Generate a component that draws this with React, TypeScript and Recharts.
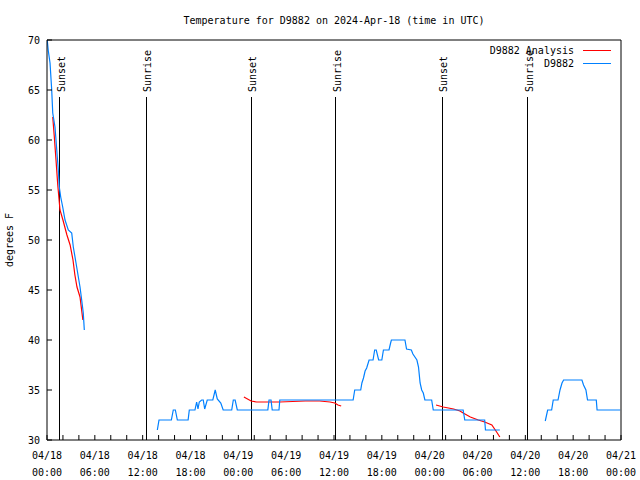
import React from "react";
import { LineChart, Line, XAxis, YAxis, ReferenceLine } from "recharts";

// hours since 04/18 00:00 UTC, temperature in degrees F
const obsSeg1: [number, number][] = [
  [0.03, 70], [0.15, 69], [0.38, 67.7], [0.59, 65], [0.72, 62.7], [1.0, 61.3], [1.13, 60],
  [1.29, 58.3], [1.42, 57], [1.54, 55.3], [1.72, 54.3], [1.97, 53.3], [2.26, 52], [2.67, 51],
  [3.1, 50.7], [3.3, 49.3], [3.64, 47.7], [3.93, 46.3], [4.14, 45.3], [4.35, 44], [4.55, 42.7],
  [4.68, 41],
];
const obsSeg2: [number, number][] = [
  [13.84, 31], [14.05, 32], [15.6, 32], [15.84, 33], [16.1, 33], [16.35, 32], [17.7, 32],
  [17.85, 33], [18.56, 33], [18.77, 33.8], [18.94, 33.1], [19.1, 33.8], [19.4, 34], [19.6, 34],
  [19.78, 33.1], [20.1, 34], [20.8, 34], [21.1, 35], [21.36, 34.1], [21.8, 33.7], [22.1, 33],
  [23.17, 33], [23.37, 34], [23.6, 34], [23.87, 33], [27.7, 33], [27.85, 34], [28.1, 34],
  [28.25, 33], [29.1, 33], [29.2, 34], [38.4, 34], [38.6, 35], [39.35, 35], [39.5, 35.7],
  [39.7, 36.2], [39.9, 36.9], [40.1, 37.2], [40.4, 38], [40.9, 38], [41.1, 39], [41.3, 39],
  [41.6, 38], [42.0, 38], [42.2, 39], [42.9, 39], [43.1, 39.7], [43.2, 40], [44.9, 40],
  [45.1, 39.1], [45.7, 39], [45.9, 38.6], [46.4, 38], [46.6, 37.3], [46.8, 35.7], [47.0, 35],
  [47.2, 34.7], [47.4, 34], [48.25, 34], [48.45, 33], [52.2, 33], [52.4, 32], [54.9, 32],
  [55.0, 31], [56.8, 31],
];
const obsSeg3: [number, number][] = [
  [62.5, 31.9], [62.8, 33], [63.3, 33], [63.5, 34], [64.1, 34], [64.35, 35], [64.6, 35.7],
  [64.8, 36], [67.1, 36], [67.3, 35.5], [67.6, 35], [67.8, 34], [68.9, 34], [69.0, 33], [71.9, 33],
];

const anaSeg1: [number, number][] = [
  [0.72, 62.3], [0.9, 60.5], [1.13, 58], [1.35, 55.5], [1.63, 53], [2.0, 52], [2.5, 50.5],
  [2.9, 49.5], [3.26, 48], [3.5, 46.5], [3.76, 45.3], [4.14, 44.3], [4.5, 42],
];
const anaSeg2: [number, number][] = [
  [24.7, 34.3], [25.6, 33.9], [26.3, 33.8], [29.2, 33.8], [32.4, 33.9], [34.2, 33.9],
  [35.5, 33.8], [36.1, 33.7], [36.5, 33.5], [36.9, 33.4],
];
const anaSeg3: [number, number][] = [
  [48.8, 33.5], [49.7, 33.3], [51, 33.1], [51.8, 32.9], [52.2, 32.7], [53.1, 32.3], [54.1, 32],
  [54.9, 31.8], [55.8, 31.5], [56.4, 30.8], [56.8, 30.3],
];

const sunHours = [1.63, 12.42, 25.6, 36.25, 49.55, 60.3];
const sunLabels = ["Sunset", "Sunrise", "Sunset", "Sunrise", "Sunset", "Sunrise"];
const sunLineTop = 64.3;

const xTicks = [0, 2, 4, 6, 8, 10, 12, 14, 16, 18, 20, 22, 24, 26, 28, 30, 32, 34, 36, 38, 40,
  42, 44, 46, 48, 50, 52, 54, 56, 58, 60, 62, 64, 66, 68, 70, 72];
const dayLabels = ["04/18", "04/19", "04/20", "04/21"];
const yTicks = [30, 35, 40, 45, 50, 55, 60, 65, 70];

const FONT = "'DejaVu Sans Mono', monospace";
const BLUE = "#0080ff";
const RED = "#ff0000";

function joinSegments(segs: [number, number][][]) {
  const out: { h: number; t: number | null }[] = [];
  segs.forEach((seg, i) => {
    if (i > 0) out.push({ h: (segs[i - 1][segs[i - 1].length - 1][0] + seg[0][0]) / 2, t: null });
    seg.forEach(([h, t]) => out.push({ h, t }));
  });
  return out;
}

const obsData = joinSegments([obsSeg1, obsSeg2, obsSeg3]);
const anaData = joinSegments([anaSeg1, anaSeg2, anaSeg3]);

function TimeTick(props: any) {
  const { x, y, payload } = props;
  const h = payload.value as number;
  if (h % 6 !== 0) return <g />;
  const day = dayLabels[Math.floor(h / 24)];
  const hh = String(h % 24).padStart(2, "0");
  return (
    <g>
      <text x={x} y={y + 19} textAnchor="middle" fontSize={10} fontFamily={FONT} fill="#000">{day}</text>
      <text x={x} y={y + 36} textAnchor="middle" fontSize={10} fontFamily={FONT} fill="#000">{hh}:00</text>
    </g>
  );
}

function SunLabel(props: any) {
  const { viewBox, text } = props;
  if (!viewBox) return null;
  const x = viewBox.x + 5;
  const y = viewBox.y - 5;
  return (
    <text x={x} y={y} transform={`rotate(-90 ${x} ${y})`} fontSize={10} fontFamily={FONT} fill="#000">
      {text}
    </text>
  );
}

export default function App() {
  return (
    <div style={{ position: "absolute", left: 0, top: 0, width: 640, height: 480, background: "#fff", fontFamily: FONT }}>
      <div style={{ position: "absolute", left: 0, width: 668, top: 15, lineHeight: "12px", fontSize: 10, textAlign: "center" }}>
        Temperature for D9882 on 2024-Apr-18 (time in UTC)
      </div>
      <div style={{ position: "absolute", left: 10, top: 240, fontSize: 10, lineHeight: "12px", whiteSpace: "nowrap", transform: "translate(-50%, -50%) rotate(-90deg)" }}>
        degrees F
      </div>
      <LineChart width={640} height={480} margin={{ top: 20, right: 0, bottom: 0, left: 0 }}>
        <XAxis
          dataKey="h"
          type="number"
          domain={[0, 72]}
          ticks={xTicks}
          interval={0}
          allowDataOverflow
          height={40}
          stroke="#000"
          tickSize={-5}
          tickMargin={5}
          tick={<TimeTick />}
        />
        <XAxis
          xAxisId="top"
          orientation="top"
          dataKey="h"
          type="number"
          domain={[0, 72]}
          ticks={xTicks}
          interval={0}
          height={20}
          stroke="#000"
          tickSize={-5}
          tickFormatter={() => ""}
        />
        <YAxis
          type="number"
          domain={[30, 70]}
          ticks={yTicks}
          interval={0}
          allowDataOverflow
          width={47}
          stroke="#000"
          tickSize={-5}
          tickMargin={12}
          tick={{ fontSize: 10, fontFamily: FONT, fill: "#000" }}
        />
        <YAxis
          yAxisId="right"
          orientation="right"
          type="number"
          domain={[30, 70]}
          ticks={yTicks}
          interval={0}
          width={19}
          stroke="#000"
          tickSize={-5}
          tickFormatter={() => ""}
        />
        {sunHours.map((h, i) => (
          <ReferenceLine
            key={i}
            segment={[{ x: h, y: 30 }, { x: h, y: sunLineTop }]}
            stroke="#000"
            strokeWidth={1}
            shapeRendering="crispEdges"
            label={<SunLabel text={sunLabels[i]} />}
          />
        ))}
        <Line
          data={anaData}
          dataKey="t"
          name="D9882 Analysis"
          type="linear"
          stroke={RED}
          strokeWidth={1.2}
          dot={false}
          connectNulls={false}
          isAnimationActive={false}
        />
        <Line
          data={obsData}
          dataKey="t"
          name="D9882"
          type="linear"
          stroke={BLUE}
          strokeWidth={1.2}
          dot={false}
          connectNulls={false}
          isAnimationActive={false}
        />
      </LineChart>
      <div style={{ position: "absolute", right: 66, top: 44, fontSize: 10, lineHeight: "13px", textAlign: "right" }}>
        <div>D9882 Analysis</div>
        <div>D9882</div>
      </div>
      <div style={{ position: "absolute", left: 583, top: 50, width: 28, height: 1, background: RED }} />
      <div style={{ position: "absolute", left: 583, top: 63, width: 28, height: 1, background: BLUE }} />
    </div>
  );
}
